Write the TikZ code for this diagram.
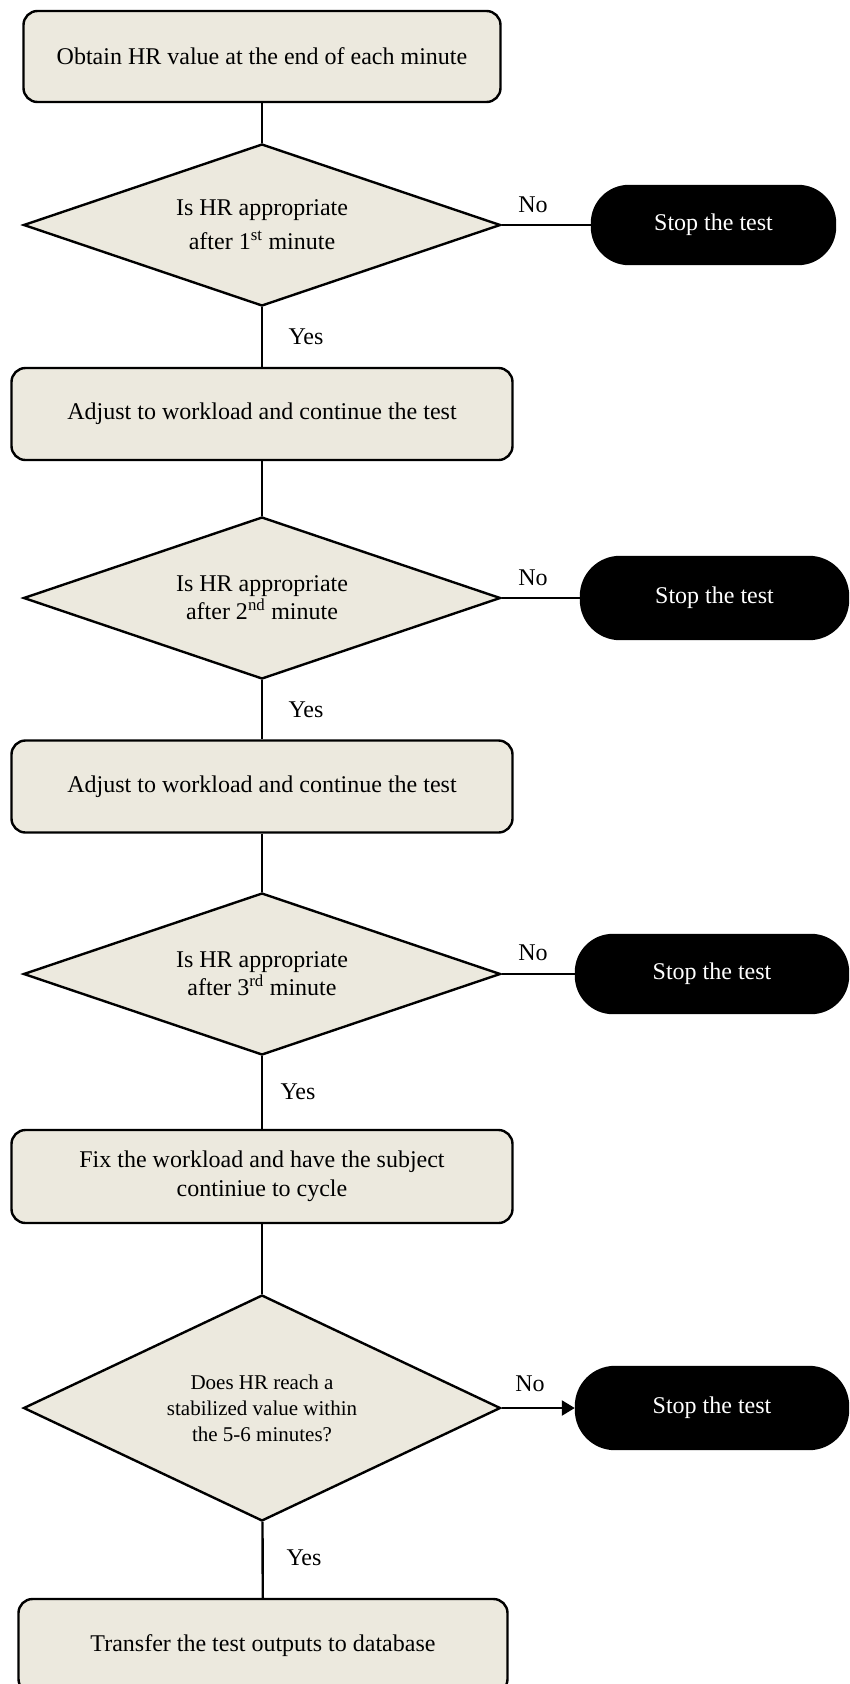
\documentclass[tikz,border=0pt]{standalone}
\usepackage{fontspec}
\setmainfont{Liberation Serif}
\usetikzlibrary{shapes.geometric,arrows.meta}
\definecolor{boxfill}{RGB}{236,233,222}
\begin{document}
\begin{tikzpicture}[x=1pt,y=-1pt,
  procbox/.style={draw, line width=2.4pt, fill=boxfill, rounded corners=14pt,
    minimum width=#1, minimum height=92pt, inner sep=0pt, align=center,
    font=\fontsize{24}{29}\selectfont},
  decision/.style={draw, line width=2.4pt, fill=boxfill, shape=diamond, aspect=3,
    minimum width=477pt, minimum height=#1, inner sep=0pt, align=center,
    font=\fontsize{24}{28}\selectfont},
  stopnode/.style={draw, line width=2.4pt, fill=black, text=white, rounded corners=37pt,
    minimum width=#1, minimum height=78pt, inner sep=0pt,
    font=\fontsize{24}{28}\selectfont},
  conn/.style={line width=2.4pt},
  lbl/.style={inner sep=0pt, font=\fontsize{24}{28}\selectfont}
]
\useasboundingbox (0,0) rectangle (850,1684);

\node[procbox=477pt, minimum height=91pt] (b1) at (262,56.5) {Obtain HR value at the end of each minute};
\node[decision=162pt] (d1) at (262,225) {Is HR appropriate\\[6pt] after 1\textsuperscript{st} minute};
\node[stopnode=243pt] (s1) at (713.5,225) {Stop the test};

\node[procbox=501pt] (b2) at (262,414) {Adjust to workload and continue the test};
\node[decision=162pt] (d2) at (262,598) {Is HR appropriate\\ after 2\textsuperscript{nd} minute};
\node[stopnode=267pt, minimum height=82pt, rounded corners=39pt] (s2) at (714.5,598) {Stop the test};

\node[procbox=501pt] (b3) at (262,786.5) {Adjust to workload and continue the test};
\node[decision=162pt] (d3) at (262,974) {Is HR appropriate\\ after 3\textsuperscript{rd} minute};
\node[stopnode=272pt] (s3) at (712,974) {Stop the test};

\node[procbox=501pt, minimum height=93pt] (b4) at (262,1176.5) {Fix the workload and have the subject\\ continiue to cycle};
\node[decision=226pt, font=\fontsize{21}{26}\selectfont] (d4) at (262,1408) {Does HR reach a\\ stabilized value within\\ the 5-6 minutes?};
\node[stopnode=272pt, minimum height=82pt, rounded corners=39pt] (s4) at (712,1408) {Stop the test};

\node[procbox=489pt, minimum height=94pt] (b5) at (263,1646) {Transfer the test outputs to database};

\draw[conn] (b1) -- (d1);
\draw[conn] (d1) -- (b2);
\draw[conn] (b2) -- (d2);
\draw[conn] (d2) -- (b3);
\draw[conn] (b3) -- (d3);
\draw[conn] (d3) -- (b4);
\draw[conn] (b4) -- (d4);
\draw[conn] (d4) -- (b5);

\draw[conn] (d1.east) -- (s1.west);
\draw[conn] (d2.east) -- (s2.west);
\draw[conn] (d3.east) -- (s3.west);
\draw[conn, -{Triangle[length=13pt,width=15pt]}] (d4.east) -- (s4.west);

\node[lbl] (n1) at (533,205) {No};
\node[lbl] (n2) at (533,578) {No};
\node[lbl] (n3) at (533,953) {No};
\node[lbl] (n4) at (530,1384) {No};

\node[lbl] (y1) at (306,337) {Yes};
\node[lbl] (y2) at (306,710) {Yes};
\node[lbl] (y3) at (298,1092) {Yes};
\node[lbl] (y4) at (304,1558) {Yes};
\end{tikzpicture}
\end{document}
